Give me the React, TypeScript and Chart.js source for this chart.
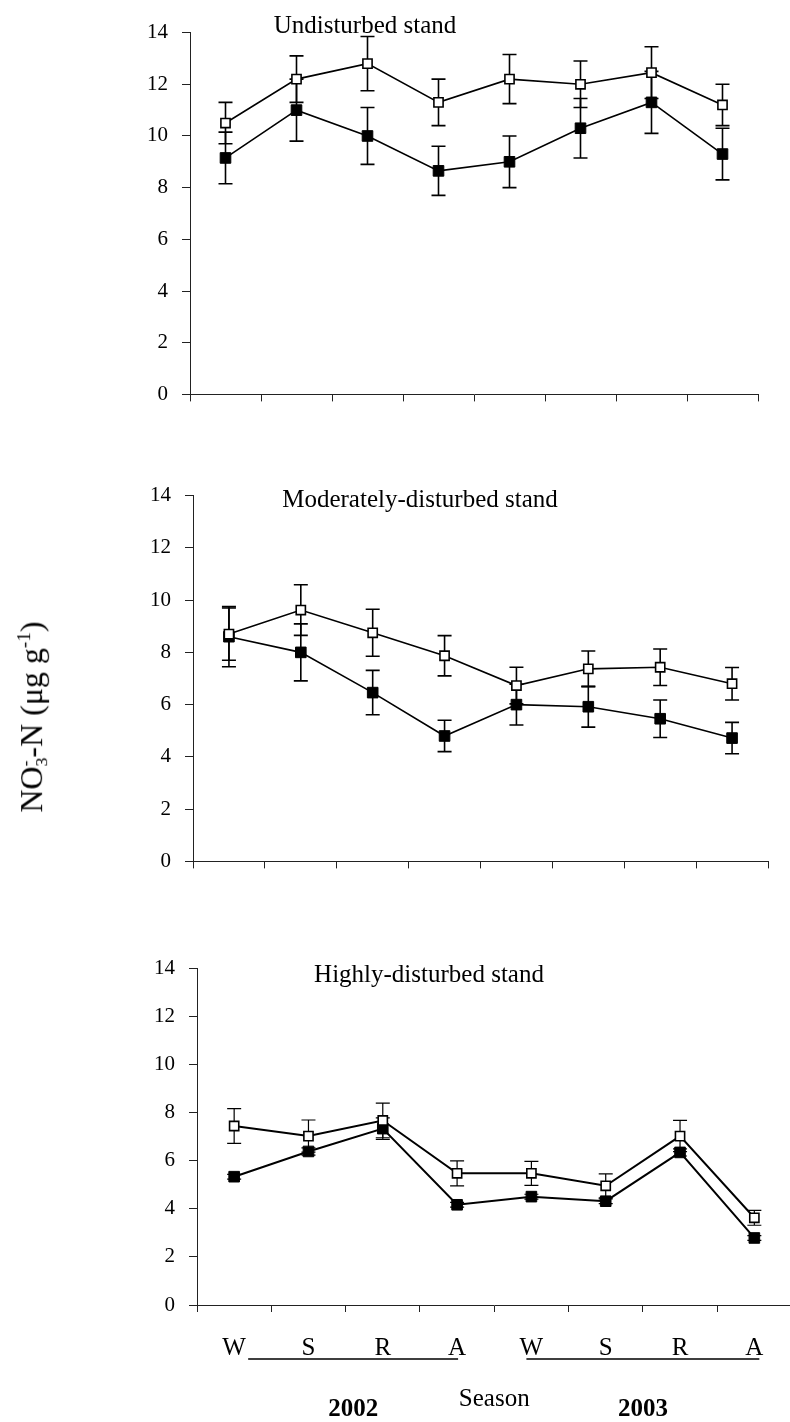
import React, { useEffect, useRef } from 'react';
import { Chart, registerables } from 'chart.js';

Chart.register(...registerables);

// ---------- data ----------
const seasons = ['W', 'S', 'R', 'A', 'W', 'S', 'R', 'A'];
const yTickValues = [0, 2, 4, 6, 8, 10, 12, 14];

const undisturbedOpen = [10.5, 12.2, 12.8, 11.3, 12.2, 12.0, 12.45, 11.2];
const undisturbedOpenErr = [0.8, 0.9, 1.05, 0.9, 0.95, 0.9, 1.0, 0.8];
const undisturbedFilled = [9.15, 11.0, 10.0, 8.65, 9.0, 10.3, 11.3, 9.3];
const undisturbedFilledErr = [1.0, 1.2, 1.1, 0.95, 1.0, 1.15, 1.2, 1.0];

const moderateOpen = [8.7, 9.62, 8.75, 7.87, 6.73, 7.37, 7.43, 6.8];
const moderateOpenErr = [1.0, 0.97, 0.9, 0.77, 0.7, 0.68, 0.7, 0.62];
const moderateFilled = [8.6, 8.0, 6.46, 4.8, 6.0, 5.92, 5.46, 4.72];
const moderateFilledErr = [1.15, 1.09, 0.85, 0.6, 0.78, 0.78, 0.72, 0.6];

const highOpen = [7.45, 7.03, 7.68, 5.48, 5.48, 4.96, 7.03, 3.63];
const highOpenErr = [0.72, 0.67, 0.72, 0.52, 0.5, 0.5, 0.65, 0.31];
const highFilled = [5.34, 6.39, 7.34, 4.17, 4.51, 4.32, 6.35, 2.79];
const highFilledErr = [0.1, 0.15, 0.45, 0.1, 0.1, 0.1, 0.15, 0.1];

const years = ['2002', '2003'];
const xTitle = 'Season';

// ---------- styling ----------
const FONT = "'Liberation Serif', 'Times New Roman', serif";
const PAGE_W = 790;
const PAGE_H = 1422;
const PAD_TOP = 20;

type PanelSpec = {
  title: string;
  titleX: number;
  titleY: number;
  open: number[];
  openErr: number[];
  filled: number[];
  filledErr: number[];
  left: number;
  right: number;
  chartTop: number;
  chartBottom: number;
  bottomAxis: boolean;
  lineWidth: number;
  errWidth: number;
};

const panels: PanelSpec[] = [
  {
    title: 'Undisturbed stand', titleX: 365, titleY: 26,
    open: undisturbedOpen, openErr: undisturbedOpenErr,
    filled: undisturbedFilled, filledErr: undisturbedFilledErr,
    left: 190, right: 758, chartTop: 26, chartBottom: 409,
    bottomAxis: false, lineWidth: 1.6, errWidth: 1.6,
  },
  {
    title: 'Moderately-disturbed stand', titleX: 420, titleY: 500,
    open: moderateOpen, openErr: moderateOpenErr,
    filled: moderateFilled, filledErr: moderateFilledErr,
    left: 193, right: 768, chartTop: 489, chartBottom: 876,
    bottomAxis: false, lineWidth: 1.6, errWidth: 1.6,
  },
  {
    title: 'Highly-disturbed stand', titleX: 429, titleY: 975,
    open: highOpen, openErr: highOpenErr,
    filled: highFilled, filledErr: highFilledErr,
    left: 197, right: 794, chartTop: 962, chartBottom: 1305,
    bottomAxis: true, lineWidth: 2, errWidth: 1.2,
  },
];

const errorBarPlugin = {
  id: 'errorBars',
  beforeDatasetsDraw(chart: any, _args: any, opts: any) {
    const ctx = chart.ctx;
    const yScale = chart.scales.y;
    const errs: number[][] = opts.errors || [];
    ctx.save();
    ctx.strokeStyle = '#000';
    ctx.lineWidth = opts.lineWidth || 1.5;
    errs.forEach((errArr, di) => {
      const meta = chart.getDatasetMeta(di);
      const values = chart.data.datasets[di].data as number[];
      meta.data.forEach((pt: any, j: number) => {
        const v = values[j];
        const e = errArr[j];
        if (e == null) return;
        const x = pt.x;
        const yTop = yScale.getPixelForValue(v + e);
        const yBot = yScale.getPixelForValue(v - e);
        const cap = 7;
        ctx.beginPath();
        ctx.moveTo(x, yTop);
        ctx.lineTo(x, yBot);
        ctx.moveTo(x - cap, yTop);
        ctx.lineTo(x + cap, yTop);
        ctx.moveTo(x - cap, yBot);
        ctx.lineTo(x + cap, yBot);
        ctx.stroke();
      });
    });
    ctx.restore();
  },
};

const panelTextPlugin = {
  id: 'panelText',
  afterDraw(chart: any, _args: any, opts: any) {
    const ctx = chart.ctx;
    ctx.save();
    ctx.fillStyle = '#000';
    ctx.textAlign = 'center';
    ctx.textBaseline = 'middle';
    ctx.font = `25px ${FONT}`;
    ctx.fillText(opts.text, opts.x, opts.y);
    if (opts.bottomAxis) {
      const xs = chart.scales.x;
      const base = chart.chartArea.bottom;
      const p = (i: number) => xs.getPixelForValue(i);
      const lineY = base + 54;
      ctx.strokeStyle = '#000';
      ctx.lineWidth = 1.6;
      const g1 = [p(0) + 14, p(3) + 1];
      const g2 = [p(4) - 5, p(7) + 5];
      ctx.beginPath();
      ctx.moveTo(g1[0], lineY);
      ctx.lineTo(g1[1], lineY);
      ctx.moveTo(g2[0], lineY);
      ctx.lineTo(g2[1], lineY);
      ctx.stroke();
      ctx.font = `bold 25px ${FONT}`;
      ctx.fillText(years[0], (g1[0] + g1[1]) / 2, base + 105);
      ctx.fillText(years[1], (g2[0] + g2[1]) / 2, base + 105);
      ctx.font = `25px ${FONT}`;
      ctx.fillText(xTitle, (p(3) + p(4)) / 2, base + 94);
    }
    ctx.restore();
  },
};

function PanelChart({ spec }: { spec: PanelSpec }) {
  const ref = useRef<HTMLCanvasElement | null>(null);
  const canvasTop = spec.chartTop - PAD_TOP;
  const xHeight = spec.bottomAxis ? PAGE_H - spec.chartBottom : 12;
  const canvasH = spec.chartBottom + xHeight - canvasTop;
  const canvasW = Math.max(PAGE_W, spec.right + 6);

  useEffect(() => {
    if (!ref.current) return;
    const chart = new Chart(ref.current, {
      type: 'line',
      data: {
        labels: seasons,
        datasets: [
          {
            label: 'Open symbols',
            data: spec.open,
            borderColor: '#000',
            borderWidth: spec.lineWidth,
            pointStyle: 'rect',
            pointRadius: 6.5,
            pointBackgroundColor: '#fff',
            pointBorderColor: '#000',
            pointBorderWidth: 1.6,
            tension: 0,
          },
          {
            label: 'Filled symbols',
            data: spec.filled,
            borderColor: '#000',
            borderWidth: spec.lineWidth,
            pointStyle: 'rect',
            pointRadius: 7.5,
            pointBackgroundColor: '#000',
            pointBorderColor: '#000',
            pointBorderWidth: 1,
            tension: 0,
          },
        ],
      },
      options: {
        responsive: false,
        maintainAspectRatio: false,
        animation: false,
        devicePixelRatio: 1,
        layout: { padding: { top: PAD_TOP, right: canvasW - spec.right, left: 0, bottom: 0 } },
        plugins: {
          legend: { display: false },
          tooltip: { enabled: false },
          title: { display: false },
          errorBars: { errors: [spec.openErr, spec.filledErr], lineWidth: spec.errWidth },
          panelText: {
            text: spec.title,
            x: spec.titleX,
            y: spec.titleY - canvasTop,
            bottomAxis: spec.bottomAxis,
          },
        } as any,
        scales: {
          x: {
            type: 'category',
            offset: true,
            grid: { offset: true, drawOnChartArea: false, drawTicks: true, tickLength: 7, color: '#222', lineWidth: 1 },
            border: { display: true, color: '#222', width: 1 },
            ticks: {
              display: spec.bottomAxis,
              color: '#000',
              padding: 21,
              maxRotation: 0,
              autoSkip: false,
              font: { family: FONT, size: 25 },
            },
            afterFit: (s: any) => { s.height = xHeight; },
          },
          y: {
            min: 0,
            max: 14,
            afterBuildTicks: (s: any) => { s.ticks = yTickValues.map((v) => ({ value: v })); },
            afterFit: (s: any) => { s.width = spec.left; },
            grid: { drawOnChartArea: false, drawTicks: true, tickLength: 8, color: '#222', lineWidth: 1 },
            border: { display: true, color: '#222', width: 1 },
            ticks: { color: '#000', padding: 14, font: { family: FONT, size: 21 } },
          },
        },
      },
      plugins: [errorBarPlugin, panelTextPlugin],
    } as any);
    return () => chart.destroy();
  }, [spec]);

  return (
    <canvas
      ref={ref}
      width={canvasW}
      height={canvasH}
      style={{ position: 'absolute', left: 0, top: canvasTop, width: canvasW, height: canvasH }}
    />
  );
}

export default function App() {
  return (
    <div style={{ position: 'absolute', left: 0, top: 0, width: PAGE_W, height: PAGE_H, background: '#fff', overflow: 'hidden' }}>
      {panels.map((p, i) => (
        <PanelChart key={i} spec={p} />
      ))}
      <div
        style={{
          position: 'absolute',
          left: 32,
          top: 717,
          transform: 'translate(-50%, -50%) rotate(-90deg)',
          whiteSpace: 'nowrap',
          fontFamily: FONT,
          fontSize: 32,
          color: '#000',
          lineHeight: 1,
        }}
      >
        NO
        <span style={{ display: 'inline-block', verticalAlign: '-0.3em', fontSize: '0.55em', lineHeight: 0.9, textAlign: 'left' }}>
          -<br />3
        </span>
        -N (μg g<sup style={{ fontSize: '0.6em' }}>-1</sup>)
      </div>
    </div>
  );
}
